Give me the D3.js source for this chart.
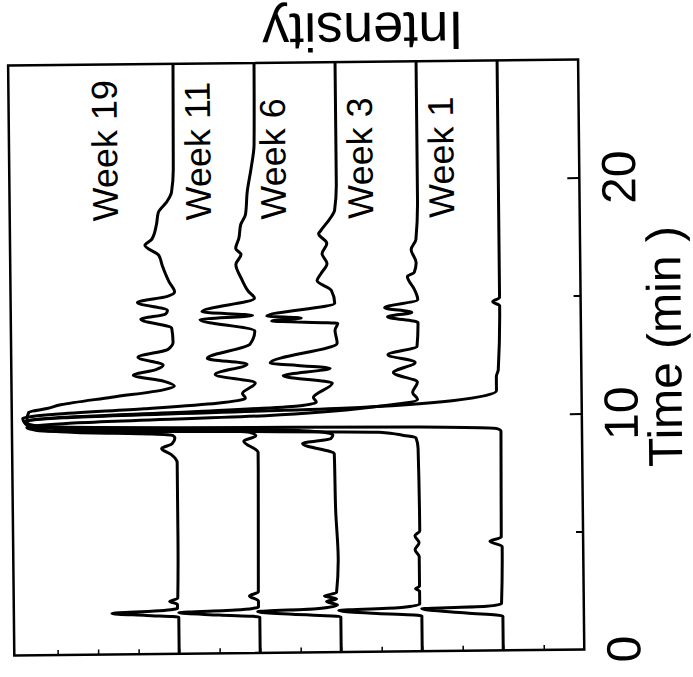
<!DOCTYPE html>
<html>
<head>
<meta charset="utf-8">
<script src="https://cdn.jsdelivr.net/npm/d3@7"></script>
<style>
  body { margin: 0; background: #fff; }
  text { font-family: "Liberation Sans", Arial, sans-serif; fill: #000; }
</style>
</head>
<body>
<div id="chart"></div>
<script>
// traces: [time (min), intensity above own baseline]
const weeks = ["Week 19", "Week 11", "Week 6", "Week 3", "Week 1"];
const offsets = [10, 8, 6, 4, 2];
const timeTicks = [5, 10, 15, 20];
const timeLabels = [0, 10, 20];

const week19 = [
  [0,0],[1.55,0],[1.64,0.8],[1.74,1.65],[1.82,0.6],[1.92,0.03],[2.1,0.03],[2.22,0.22],[2.35,0.02],
  [5,0],[8.1,0],[8.45,0.15],[8.7,0.38],[8.9,0.12],[9.15,0.05],
  [9.25,0.1],[9.32,0.6],[9.42,2.5],[9.6,3.5],[9.95,3.7],[10.3,3.65],[10.45,3.2],[10.6,2.86],[10.9,1.6],[11.2,0.3],[11.35,0.05],
  [11.55,0.3],[11.82,1.06],[12.05,0.5],[12.24,0.32],[12.58,0.94],[12.9,0.2],[13.2,0.07],[13.8,0.1],
  [14.19,0.86],[14.4,0.25],[14.55,0.2],[14.9,0.94],[15.15,0.2],[15.33,0.02],[15.75,0.15],[16.47,0.32],
  [16.89,0.4],[17.32,0.74],[17.57,0.57],[18.2,0.45],[18.71,0.4],[19.13,0.2],[19.56,0.07],[20.53,0.02],[25,0]
];
const week11 = [
  [0,0],[1.52,0],[1.62,1.0],[1.74,2.0],[1.83,0.6],[1.95,0.03],[2.2,0.03],[2.42,0.25],[2.58,0.03],
  [8.5,0],[8.98,0.35],[9.2,0.05],
  [9.35,0.2],[9.45,1.5],[9.55,4.5],[9.75,5.7],[10.05,5.8],[10.2,5.0],[10.4,2.8],[10.6,1.0],[10.8,0.3],[11.0,0.37],[11.44,0.05],
  [11.82,1.04],[12.24,0.25],[12.5,1.23],[13.09,0.17],[13.64,0.05],[14.15,1.4],[14.3,0.1],[14.48,1.35],
  [15.03,0.05],[15.33,0.2],[15.88,0.37],[16.47,0.5],[16.89,0.37],[17.15,0.5],[17.57,0.42],[18.16,0.37],
  [18.58,0.25],[19.56,0.2],[20.53,0.1],[21.54,0.02],[25,0]
];
const week6 = [
  [0,0],[1.5,0],[1.62,1.2],[1.75,2.05],[1.85,0.6],[2.0,0.08],[2.15,0.35],[2.25,0.1],[2.38,0.4],[2.52,0.1],
  [4,0.05],[6,0.1],[8.4,0.12],[8.85,0.9],[9.05,0.2],[9.2,0.15],
  [9.3,0.3],[9.45,1.5],[9.55,5],[9.7,7.6],[9.9,7.75],[10.05,7.0],[10.25,3.6],[10.45,1.0],[10.6,0.55],[10.8,0.62],[11.4,0.15],
  [11.73,1.36],[12.03,0.2],[12.28,1.68],[13.09,0.02],[13.64,0.07],[13.93,0],[14.06,1.63],[14.17,0.9],
  [14.27,1.75],[14.78,0.07],[15.33,0.15],[15.75,0.5],[16.05,0.4],[16.47,0.25],[16.89,0.37],[17.32,0.25],
  [17.74,0.45],[17.86,0.4],[18.41,0.15],[18.71,0.05],[19.85,0],[25,0]
];
const week3 = [
  [0,0],[1.5,0],[1.62,1.1],[1.76,2.05],[1.86,0.5],[2.0,0.05],[2.55,0.05],[2.65,0.15],[2.75,0.05],
  [4.0,0.05],[4.3,0.15],[4.6,0.05],[4.9,0.15],[5.1,0.03],[8.6,0.05],[9.05,0.1],[9.15,0.4],
  [9.3,1.0],[9.4,5],[9.5,9.3],[9.65,9.7],[9.8,8.8],[10.05,3.8],[10.4,1],[10.67,0.05],[10.97,0.17],[11.4,0.05],
  [11.82,0.64],[12.24,0.1],[12.58,0.77],[12.92,0.05],[13.93,0.02],[14.19,0.77],[14.36,0.17],[14.57,0.84],
  [14.9,0.02],[15.33,0.1],[15.88,0.27],[16.05,0.1],[16.47,0.05],[17.02,0.17],[17.44,0.05],[19.13,0],[25,0]
];
const week1 = [
  [0,0],[1.45,0],[1.6,0.9],[1.8,2.0],[1.88,0.4],[1.98,0.03],[4.4,0],[4.63,0.3],[4.8,0.02],[9.3,0],
  [9.4,0.1],[9.5,2.0],[9.58,8],[9.7,11.4],[9.9,11.75],[10.05,10.8],[10.33,3.9],[10.6,1.2],[11.0,0.1],
  [11.6,0.1],[11.9,0.05],[14.6,0],[14.78,0.17],[14.95,0],[25,0]
];
const traces = [week19, week11, week6, week3, week1];

const W = 693, H = 677;
const margin = { top: 62, right: 112, bottom: 25, left: 11 };
const width = W - margin.left - margin.right;
const height = H - margin.top - margin.bottom;

const svg = d3.select("#chart").append("svg")
  .attr("width", W)
  .attr("height", H);

// the scan is a little skewed
const g = svg.append("g")
  .attr("transform", `rotate(-0.6, ${W / 2}, ${H / 2}) translate(${margin.left},${margin.top})`);

const y = d3.scaleLinear().domain([0, 25]).range([height, 0]);
const x = d3.scaleLinear().domain([0, 14.07]).range([width, 0]); // intensity grows to the left

g.append("clipPath").attr("id", "clip")
  .append("rect").attr("width", width).attr("height", height);

// intensity ticks along the bottom edge
g.append("g")
  .attr("transform", `translate(0,${height})`)
  .call(d3.axisTop(x).tickValues(d3.range(1, 14)).tickSize(5).tickFormat(""))
  .call(a => a.select(".domain").remove())
  .call(a => a.selectAll("line").attr("stroke", "#000").attr("stroke-width", 1.5));

// time axis on the right
g.append("g")
  .attr("transform", `translate(${width},0)`)
  .call(d3.axisLeft(y).tickValues(timeTicks).tickFormat(""))
  .call(a => a.select(".domain").remove())
  .call(a => a.selectAll("line")
    .attr("x2", d => d % 10 === 0 ? -12 : -7)
    .attr("stroke", "#000").attr("stroke-width", 2));

g.append("rect")
  .attr("width", width).attr("height", height)
  .attr("fill", "none").attr("stroke", "#000").attr("stroke-width", 2.5);

const line = d3.line()
  .x(d => x(d[1]))
  .y(d => y(d[0]))
  .curve(d3.curveMonotoneY);

g.append("g").attr("clip-path", "url(#clip)")
  .selectAll("path")
  .data(traces)
  .join("path")
  .attr("d", (d, i) => line(d.map(p => [p[0], p[1] + offsets[i]])))
  .attr("fill", "none")
  .attr("stroke", "#000")
  .attr("stroke-width", 3)
  .attr("stroke-linejoin", "round");

g.selectAll(".week")
  .data(weeks)
  .join("text")
  .attr("class", "week")
  .attr("transform", (d, i) => `translate(${x(offsets[i] + (i === 0 ? 1.4 : i === 2 ? 1.25 : 1.1))},${y(18.35)}) rotate(-90)`)
  .attr("font-size", 36)
  .text(d => d);

g.selectAll(".tlabel")
  .data(timeLabels)
  .join("text")
  .attr("class", "tlabel")
  .attr("transform", d => `translate(${width + 56},${y(d)}) rotate(-90)`)
  .attr("text-anchor", "middle")
  .attr("font-size", 48)
  .text(d => d);

g.append("text")
  .attr("transform", `translate(${width + 100},${y(12.8)}) rotate(-90)`)
  .attr("text-anchor", "middle")
  .attr("font-size", 48)
  .text("Time (min )");

g.append("text")
  .attr("transform", `translate(${width / 2 + 70},-49) rotate(180)`)
  .attr("text-anchor", "middle")
  .attr("font-size", 54)
  .text("Intensity");
</script>
</body>
</html>
